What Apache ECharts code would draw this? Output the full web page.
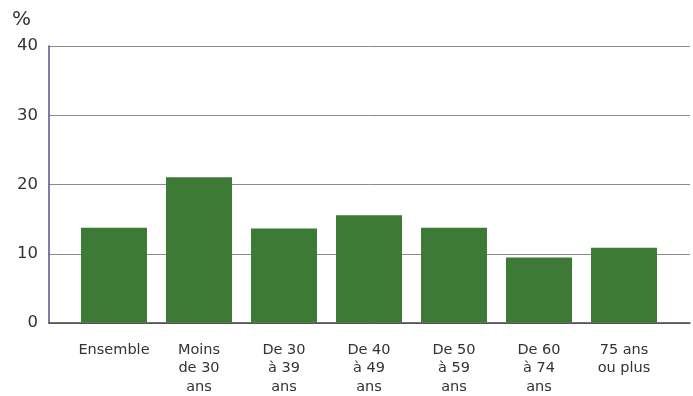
<!DOCTYPE html>
<html>
<head>
<meta charset="utf-8">
<script src="https://cdn.jsdelivr.net/npm/echarts@6/dist/echarts.min.js"></script>
<style>
  html, body { margin: 0; padding: 0; background: #ffffff; }
  #chart { width: 693px; height: 396px; }
</style>
</head>
<body>
<div id="chart"></div>
<script>
// Share of households by age group (%)
const categories = ['Ensemble', 'Moins\nde 30\nans', 'De 30\nà 39\nans', 'De 40\nà 49\nans', 'De 50\nà 59\nans', 'De 60\nà 74\nans', '75 ans\nou plus'];
const values = [13.7, 21.0, 13.6, 15.5, 13.7, 9.4, 10.8];
const yTicks = [0, 10, 20, 30, 40];

const yMin = yTicks[0];
const yMax = yTicks[yTicks.length - 1];
const yStep = yTicks[1] - yTicks[0];

const font = 'DejaVu Sans, Verdana, sans-serif';
const chart = echarts.init(document.getElementById('chart'));

chart.setOption({
  backgroundColor: '#ffffff',
  animation: false,
  title: {
    text: '%', left: 7, top: 5,
    textStyle: { fontFamily: font, fontSize: 20, fontWeight: 'normal', color: '#333333' }
  },
  grid: [
    // frame: axes and gridlines across the full width
    { left: 49, right: 3, top: 46, bottom: 73 },
    // bars: narrower band so the category spacing sits inside the frame
    { left: 71.5, right: 26.5, top: 46, bottom: 73 }
  ],
  xAxis: [
    {
      gridIndex: 0, type: 'value', min: 0, max: 1,
      axisLine: { show: true, lineStyle: { color: '#444444', width: 1.5 } },
      axisTick: { show: false }, axisLabel: { show: false }, splitLine: { show: false }
    },
    {
      gridIndex: 1, type: 'category', data: categories,
      axisLine: { show: false }, axisTick: { show: false },
      axisLabel: {
        interval: 0, margin: 18,
        fontFamily: font, fontSize: 14.5, lineHeight: 18.5, color: '#333333'
      }
    }
  ],
  yAxis: [
    {
      gridIndex: 0, type: 'value', min: yMin, max: yMax, interval: yStep,
      axisLine: { show: true, lineStyle: { color: '#5a4a9a', width: 1.5 } },
      axisTick: { show: false },
      axisLabel: { margin: 11, fontFamily: font, fontSize: 16.5, color: '#333333' },
      splitLine: { show: true, lineStyle: { color: '#8a8a8a', width: 1 } }
    },
    {
      gridIndex: 1, type: 'value', min: yMin, max: yMax, interval: yStep,
      show: false
    }
  ],
  series: [
    {
      type: 'bar', xAxisIndex: 1, yAxisIndex: 1,
      data: values, barWidth: 66,
      itemStyle: { color: '#3c7a36' }
    }
  ]
});
</script>
</body>
</html>
